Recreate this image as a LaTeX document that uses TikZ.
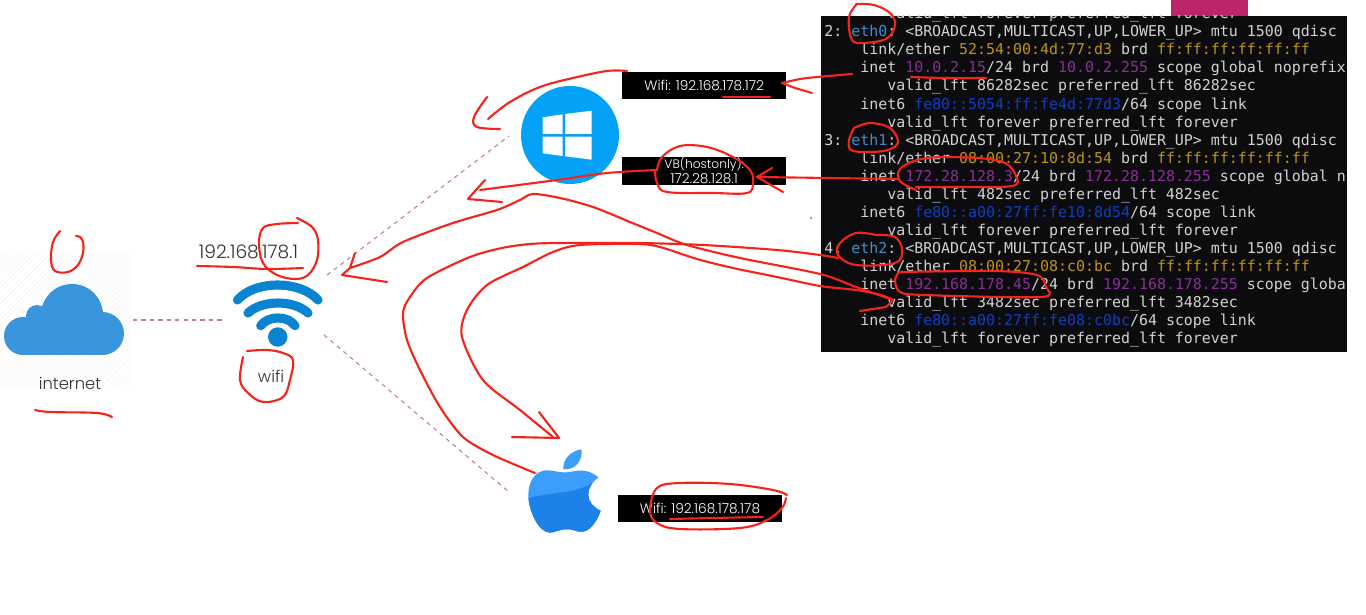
\documentclass[tikz,border=0pt]{standalone}
\usepackage{fontspec}
\setmainfont{Poppins}[UprightFont=* Light]
\setmonofont{DejaVu Sans Mono}
\usetikzlibrary{patterns}
\definecolor{inkred}{HTML}{F5231A}
\definecolor{linkpink}{HTML}{C27BA0}
\definecolor{cloudblue}{HTML}{3A96DC}
\definecolor{wifiblue}{HTML}{0A84D0}
\definecolor{winblue}{HTML}{03A2F6}
\definecolor{applelight}{HTML}{3C9EFA}
\definecolor{appledark}{HTML}{1C82EA}
\definecolor{termbg}{HTML}{0C0C0F}
\definecolor{termfg}{HTML}{D2D2D2}
\definecolor{ethblue}{HTML}{3B8ED0}
\definecolor{macgold}{HTML}{BE9410}
\definecolor{ipviolet}{HTML}{8A2F96}
\definecolor{sixblue}{HTML}{0F3FC0}
\definecolor{tabpink}{HTML}{BC2567}
\newcommand{\ethn}[1]{\textcolor{ethblue}{#1}}
\newcommand{\macn}[1]{\textcolor{macgold}{#1}}
\newcommand{\ipn}[1]{\textcolor{ipviolet}{#1}}
\newcommand{\sixn}[1]{\textcolor{sixblue}{#1}}
\newcommand{\flagsline}{<BROADCAST,MULTICAST,UP,LOWER\_UP> mtu 1500 qdisc}
\newcommand{\foreverline}{~~~~~~~valid\_lft forever preferred\_lft forever}
\newcommand{\allff}{\macn{ff:ff:ff:ff:ff:ff}}
\tikzset{
  redink/.style={draw=inkred,line width=1.2pt,line cap=round,line join=round},
  linkdash/.style={draw=linkpink,line width=0.6pt,dash pattern=on 2.4pt off 2.4pt},
  ipbox/.style={fill=black,text=white,inner sep=0pt,align=center,minimum width=3.27cm,minimum height=0.55cm,font=\fontsize{7.8}{8.6}\selectfont},
  slidetext/.style={text=black!80,inner sep=0pt},
  wifiarc/.style={draw=wifiblue,line width=5.2pt,line cap=round},
}
\begin{document}
\begin{tikzpicture}[x=0.02cm,y=-0.02cm]
    \useasboundingbox (0,0) rectangle (1366,615);
    \fill[white] (0,0) rectangle (1366,615);
    \fill[tabpink] (1171,0) rectangle (1248,17);
    \path[pattern=north east lines,pattern color=black!3] (0,253) rectangle (131,388);

    \fill[cloudblue] (23,336) circle[radius=19];
    \fill[cloudblue] (37,316) circle[radius=11];
    \fill[cloudblue] (72,315) circle[radius=31];
    \fill[cloudblue] (102.5,333.5) circle[radius=21.5];
    \fill[cloudblue] (23,325) rectangle (103,355);
    \node[slidetext,font=\fontsize{9.3}{11}\selectfont] (nettext) at (70,383) {internet};

    \fill[wifiblue] (277.7,337) circle[radius=9.7];
    \draw[wifiarc] (237.5,300) .. controls (255,280) and (300,280) .. (318,300);
    \draw[wifiarc] (248,313) .. controls (262,299.7) and (294,299.7) .. (308,313);
    \draw[wifiarc] (260.7,325.7) .. controls (268,315.4) and (288,315.4) .. (295,325.7);
    \node[slidetext,font=\fontsize{10.6}{12}\selectfont] (routerip) at (248.5,252) {192.168.178.1};
    \node[slidetext,font=\fontsize{9.3}{11}\selectfont] (wifitext) at (271,376) {wifi};

    \fill[winblue] (570,135) circle[radius=49];
    \fill[white] (542.7,117.3) -- (562.7,114.3) -- (562.7,134) -- (542.7,134) -- cycle;
    \fill[white] (565,114) -- (591.7,110.7) -- (591.7,134) -- (565,134) -- cycle;
    \fill[white] (542.7,136.7) -- (562.7,136.7) -- (562.7,156) -- (542.7,153.3) -- cycle;
    \fill[white] (565,136.7) -- (591.7,136.7) -- (591.7,159.7) -- (565,156.3) -- cycle;

    \begin{scope}[shift={(480,420)},x=0.00667cm,y=-0.00667cm]
        \def\applebody{(250,157) .. controls (225,155) and (205,148) .. (190,152)
            .. controls (160,160) and (145,190) .. (145,225)
            .. controls (145,270) and (175,338) .. (210,338)
            .. controls (225,338) and (235,328) .. (262,328)
            .. controls (285,328) and (290,338) .. (310,335)
            .. controls (335,330) and (355,295) .. (362,272)
            .. controls (340,262) and (325,245) .. (325,225)
            .. controls (325,200) and (340,183) .. (355,172)
            .. controls (335,155) and (315,150) .. (295,152)
            .. controls (280,153) and (265,158) .. (250,157) -- cycle}
        \fill[applelight] \applebody;
        \fill[applelight] (250,148) .. controls (248,115) and (275,92) .. (305,88)
            .. controls (307,120) and (290,150) .. (250,148) -- cycle;
        \begin{scope}
            \clip \applebody;
            \fill[appledark] (130,240) .. controls (190,215) and (280,225) .. (335,190)
                -- (400,190) -- (400,350) -- (130,350) -- cycle;
        \end{scope}
    \end{scope}

    \node[ipbox] (winwifi) at (704.2,85.5) {Wifi: 192.168.178.172};
    \node[ipbox] (winvb) at (704.2,170.8) {{\fontsize{7}{8.6}\selectfont VB(hostonly):}\\172.28.128.1};
    \node[ipbox] (macwifi) at (700,508.7) {Wifi: 192.168.178.178};

    \coordinate (cloudend) at (133,320);
    \coordinate (wifileft) at (225,320);
    \coordinate (wifitop) at (327,275);
    \coordinate (winend) at (509,136);
    \coordinate (wifibot) at (324,335);
    \coordinate (macend) at (509,492);
    \draw[linkdash] (cloudend) -- (wifileft);
    \draw[linkdash] (wifitop) -- (winend);
    \draw[linkdash] (wifibot) -- (macend);

    \fill[termbg] (820.5,16) rectangle (1347,351.5);
    \begin{scope}
        \clip (820.5,16) rectangle (1347,351.5);
        \node[anchor=north west,inner sep=0pt,align=left,text=termfg,font=\ttfamily\fontsize{8.5}{10.27}\selectfont] (termlog) at (824,7) {%
\foreverline\\
2: \ethn{eth0}: \flagsline\\
~~~~link/ether \macn{52:54:00:4d:77:d3} brd \allff\\
~~~~inet \ipn{10.0.2.15}/24 brd \ipn{10.0.2.255} scope global noprefix\\
~~~~~~~valid\_lft 86282sec preferred\_lft 86282sec\\
~~~~inet6 \sixn{fe80::5054:ff:fe4d:77d3}/64 scope link\\
\foreverline\\
3: \ethn{eth1}: \flagsline\\
~~~~link/ether \macn{08:00:27:10:8d:54} brd \allff\\
~~~~inet \ipn{172.28.128.3}/24 brd \ipn{172.28.128.255} scope global n\\
~~~~~~~valid\_lft 482sec preferred\_lft 482sec\\
~~~~inet6 \sixn{fe80::a00:27ff:fe10:8d54}/64 scope link\\
\foreverline\\
4: \ethn{eth2}: \flagsline\\
~~~~link/ether \macn{08:00:27:08:c0:bc} brd \allff\\
~~~~inet \ipn{192.168.178.45}/24 brd \ipn{192.168.178.255} scope globa\\
~~~~~~~valid\_lft 3482sec preferred\_lft 3482sec\\
~~~~inet6 \sixn{fe80::a00:27ff:fe08:c0bc}/64 scope link\\
\foreverline};
    \end{scope}

    \draw[redink] plot[smooth,tension=0.6] coordinates {(60,231) (53,242) (51,260) (55,271) (68,272) (78,265) (83,253) (83,242) (80,237) (76,236)};
    \draw[redink] plot[smooth,tension=0.6] coordinates {(35,410) (50,412) (97,413) (112,417)};
    \draw[redink] plot[smooth,tension=0.6] coordinates {(197,266) (233,267) (267,269) (303,268)};
    \draw[redink] plot[smooth,tension=0.6] coordinates {(298,223) (277,224) (263,228) (259,243) (263,263) (277,275) (295,279) (308,275) (317,260) (318,240) (312,227) (297,218)};
    \draw[redink] plot[smooth,tension=0.6] coordinates {(247,351) (267,350) (283,353) (293,360) (290,380) (283,397) (263,402) (248,393) (240,380) (243,357)};

    \draw[redink] plot[smooth,tension=0.6] coordinates {(627,71) (607,71) (573,78) (540,87) (510,102) (488,119)};
    \draw[redink] plot[smooth,tension=0.6] coordinates {(487,97) (474,117) (477,127) (500,129)};
    \draw[redink] (723,97) -- (770,97);
    \draw[redink] plot[smooth,tension=0.4] coordinates {(852,74) (817,77) (800,79) (782,83)};
    \draw[redink] (782,83) -- (795,88) -- (812,93);
    \draw[redink] plot[smooth,tension=0.6] coordinates {(911,77) (945,78) (986,78)};
    \draw[redink] plot[smooth,tension=0.6] coordinates {(856,5) (849,17) (851,38) (860,43) (886,39) (895,25) (890,13) (874,5) (856,4)};
    \draw[redink] plot[smooth,tension=0.6] coordinates {(854,128) (849,140) (851,150) (867,152) (888,150) (898,142) (890,128) (870,123) (854,128)};

    \draw[redink] plot[smooth,tension=0.6] coordinates {(916,190) (900,181) (901,168) (927,158) (977,158) (1005,163) (1016,176) (1012,186) (960,187) (916,187)};
    \draw[redink] (899,179) -- (757,177);
    \draw[redink] (772,168) -- (757,177) -- (783,192);
    \draw[redink] plot[smooth,tension=0.6] coordinates {(657,170) (662,157) (680,146) (707,147) (733,157) (750,170) (753,183) (747,193) (713,193) (667,192) (657,183) (655,170)};
    \draw[redink] plot[smooth,tension=0.5] coordinates {(657,170) (607,173) (557,180) (480,190)};
    \draw[redink] (485,180) -- (468,199) -- (502,202);

    \draw[redink] plot[smooth,tension=0.5] coordinates {(893,300) (856,287) (820,274) (740,258) (687,245) (657,233) (630,222) (593,207) (560,198) (533,194) (520,200) (497,210) (453,223) (403,242) (380,257) (350,268)};
    \draw[redink] (355,253) -- (350,268);
    \draw[redink] (350,268) -- (342,275) -- (387,282);
    \draw[redink] plot[smooth,tension=0.5] coordinates {(838,258) (820,255) (777,250) (703,245) (637,243) (560,243) (530,244) (502,248) (470,257) (427,278) (410,297) (403,313) (407,340) (420,370) (440,407) (463,437) (493,455) (535,473)};
    \draw[redink] plot[smooth,tension=0.5] coordinates {(893,300) (881,295) (856,290) (820,286) (777,277) (733,268) (697,259) (660,247) (637,244) (580,245) (553,252) (523,267) (487,285) (467,310) (462,337) (483,380) (520,410) (553,437)};
    \draw[redink] (539,412) -- (559,438) -- (512,437);
    \draw[redink] (893,300) -- (886,307) -- (860,311);
    \draw[redink] plot[smooth,tension=0.6] coordinates {(876,235) (856,233) (840,243) (838,255) (856,265) (895,263) (902,250) (895,237) (877,235)};
    \draw[redink] plot[smooth,tension=0.5] coordinates {(899,272) (895,280) (900,292) (924,295) (1041,297) (1046,287) (1037,275) (995,271) (899,272)};

    \draw[redink] plot[smooth,tension=0.6] coordinates {(787,495) (773,490) (730,484) (680,483) (657,488) (650,510) (657,523) (680,529) (740,528) (767,520) (782,508) (786,498)};
    \draw[redink] plot[smooth,tension=0.6] coordinates {(670,519) (713,518) (763,517)};
    \fill[inkred] (811,218) circle[radius=1];
\end{tikzpicture}
\end{document}
